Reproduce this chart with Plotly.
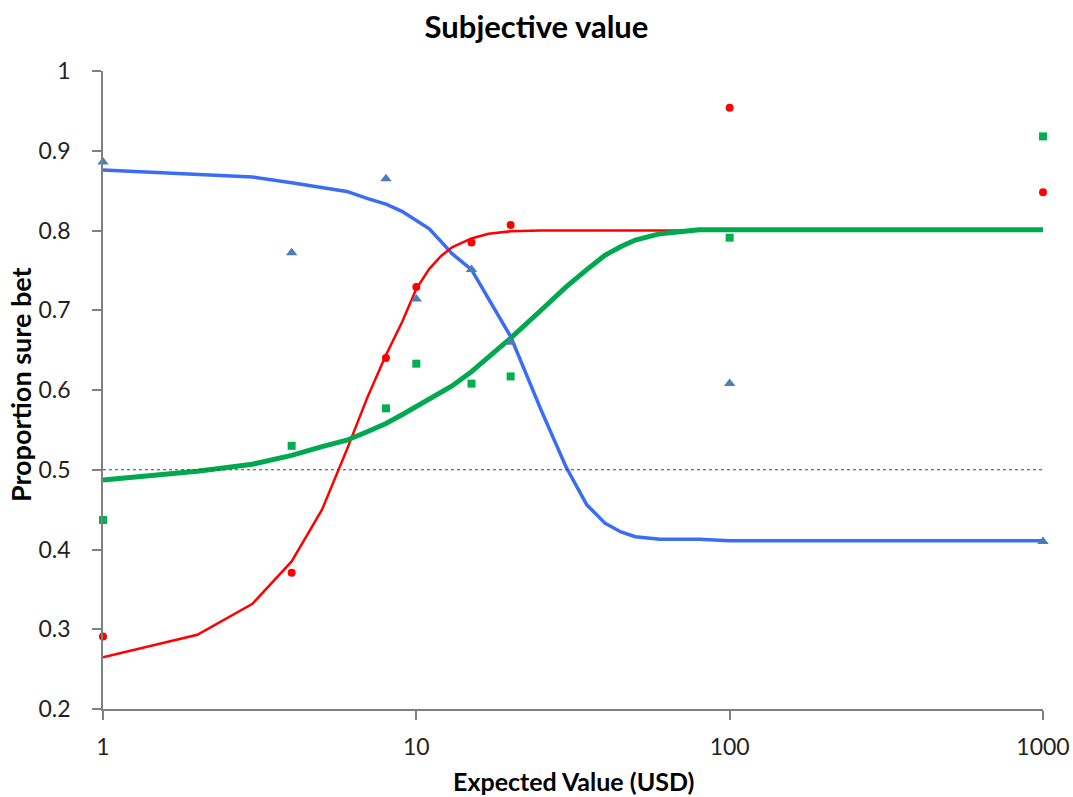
import plotly.graph_objects as go

# ---- data ----
ev_points = [1, 4, 8, 10, 15, 20, 100, 1000]
blue_points = [0.886, 0.772, 0.865, 0.714, 0.751, 0.660, 0.608, 0.410]
red_points = [0.291, 0.371, 0.640, 0.729, 0.785, 0.807, 0.954, 0.848]
green_points = [0.437, 0.530, 0.577, 0.633, 0.608, 0.617, 0.791, 0.918]

curve_x = [1, 2, 3, 4, 5, 6, 7, 8, 9, 10, 11, 12, 13, 15, 17, 20, 25, 30, 35, 40,
           45, 50, 60, 70, 80, 100, 1000]
blue_curve = [0.876, 0.870, 0.867, 0.860, 0.854, 0.849, 0.840, 0.833, 0.824, 0.813,
              0.802, 0.786, 0.771, 0.751, 0.715, 0.667, 0.575, 0.504, 0.456, 0.433,
              0.422, 0.416, 0.413, 0.413, 0.413, 0.411, 0.411]
red_curve = [0.265, 0.293, 0.332, 0.385, 0.450, 0.525, 0.592, 0.644, 0.685, 0.727,
             0.752, 0.768, 0.779, 0.790, 0.796, 0.799, 0.800, 0.800, 0.800, 0.800,
             0.800, 0.800, 0.800, 0.800, 0.800, 0.800, 0.800]
green_curve = [0.487, 0.498, 0.507, 0.518, 0.529, 0.537, 0.548, 0.558, 0.569, 0.579,
               0.588, 0.596, 0.605, 0.623, 0.641, 0.665, 0.700, 0.729, 0.751, 0.769,
               0.780, 0.788, 0.796, 0.799, 0.801, 0.801, 0.801]
chance_level = 0.5

y_ticks = [0.2, 0.3, 0.4, 0.5, 0.6, 0.7, 0.8, 0.9, 1.0]
y_tick_text = ["0.2", "0.3", "0.4", "0.5", "0.6", "0.7", "0.8", "0.9", "1"]
x_ticks = [1, 10, 100, 1000]
x_tick_text = ["1", "10", "100", "1000"]

title_text = "Subjective value"
x_title_text = "Expected Value (USD)"
y_title_text = "Proportion sure bet"

FONT = "Lato, 'Open Sans', sans-serif"

fig = go.Figure()

fig.add_trace(go.Scatter(x=curve_x, y=blue_curve, mode="lines",
                         line=dict(color="#3b6cf5", width=3.5), hoverinfo="skip"))
fig.add_trace(go.Scatter(x=curve_x, y=red_curve, mode="lines",
                         line=dict(color="#ff0000", width=2.5), hoverinfo="skip"))
fig.add_trace(go.Scatter(x=curve_x, y=green_curve, mode="lines",
                         line=dict(color="#00a94f", width=5), hoverinfo="skip"))

fig.add_trace(go.Scatter(x=ev_points, y=blue_points, mode="markers", cliponaxis=False,
                         marker=dict(symbol="triangle-up", size=10, color="#4a7ebb")))
fig.add_trace(go.Scatter(x=ev_points, y=red_points, mode="markers", cliponaxis=False,
                         marker=dict(symbol="circle", size=8, color="#ff0000")))
fig.add_trace(go.Scatter(x=ev_points, y=green_points, mode="markers", cliponaxis=False,
                         marker=dict(symbol="square", size=8, color="#00b050")))

fig.add_hline(y=chance_level, line=dict(color="#444444", width=1, dash="dot"))

fig.update_layout(
    width=1073, height=797,
    margin=dict(l=103, r=30, t=71, b=88),
    paper_bgcolor="white", plot_bgcolor="white",
    showlegend=False,
    font=dict(family=FONT, color="#000000", size=23),
    title=dict(text="<b>" + title_text + "</b>", x=0.5, xanchor="center",
               y=0.966, yanchor="middle", font=dict(size=31, family=FONT)),
)

fig.update_xaxes(
    type="log", range=[0, 3],
    tickvals=x_ticks, ticktext=x_tick_text,
    showline=True, linecolor="#808080", linewidth=1.5,
    ticks="outside", ticklen=9, tickcolor="#808080", tickwidth=1.5,
    showgrid=False, zeroline=False, automargin=False,
    ticklabelstandoff=8,
    tickfont=dict(size=23, color="#222222"),
)
fig.update_yaxes(
    range=[0.2, 1.0],
    tickvals=y_ticks, ticktext=y_tick_text,
    showline=True, linecolor="#808080", linewidth=1.5,
    ticks="outside", ticklen=9, tickcolor="#808080", tickwidth=1.5,
    showgrid=False, zeroline=False, automargin=False,
    ticklabelstandoff=17,
    tickfont=dict(size=23, color="#222222"),
)

# axis titles placed as annotations for precise positioning
fig.add_annotation(text="<b>" + x_title_text + "</b>", xref="paper", yref="paper",
                   x=0.5, y=-0.113, xanchor="center", yanchor="middle",
                   showarrow=False, font=dict(size=25, family=FONT))
fig.add_annotation(text="<b>" + y_title_text + "</b>", xref="paper", yref="paper",
                   x=-0.087, y=0.508, xanchor="center", yanchor="middle", textangle=-90,
                   showarrow=False, font=dict(size=27, family=FONT))

fig.write_html("out.html")
